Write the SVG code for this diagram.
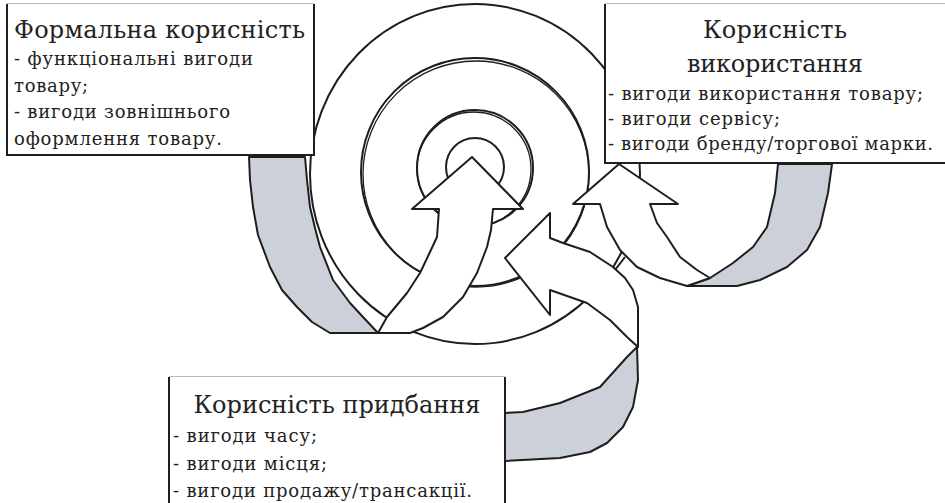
<svg xmlns="http://www.w3.org/2000/svg" width="945" height="503" viewBox="0 0 945 503">
<style>
.ln{fill:none;stroke:#1e1e1e;stroke-width:2;stroke-linejoin:round}
.thin{fill:none;stroke:#1e1e1e;stroke-width:1.3}
.wh{fill:#ffffff;stroke:#1e1e1e;stroke-width:2;stroke-linejoin:round}
.gr{fill:#ccd0d8;stroke:#1e1e1e;stroke-width:2;stroke-linejoin:round}
.box{fill:#ffffff}
.bd{fill:none;stroke:#1e1e1e;stroke-width:2}
.tp{fill:none;stroke:#b8b8b8;stroke-width:1}
.t1{font-family:"DejaVu Serif","Liberation Serif",serif;font-size:24px;fill:#222}
.t2{font-family:"DejaVu Serif","Liberation Serif",serif;font-size:18px;fill:#222}
</style>
<rect width="945" height="503" fill="#ffffff"/>
<g id="circles">
<ellipse class="ln" cx="475" cy="174" rx="165" ry="170"/>
<circle class="ln" cx="475" cy="172" r="114"/>
<circle class="thin" cx="476" cy="174" r="113"/>
<circle class="ln" cx="475" cy="168" r="58"/>
<circle class="thin" cx="474" cy="169" r="57"/>
<circle class="ln" cx="475" cy="167" r="29"/>
</g>
<g id="connectors">
<g id="arrow-use">
<path class="gr" d="M778,164 L775,193 L767,227 L753,247 L733,263 L710,278 L687,286 L737,286 L760,280 L787,267 L807,250 L820,227 L828,193 L832,164 Z"/>
<path class="wh" d="M619,164 L678,204 L650,204 L657,223 L667,237 L680,257 L697,270 L710,278 L687,286 L660,278 L637,267 L620,250 L607,227 L600,204 L573,204 Z"/>
<path class="ln" d="M625,257 L615,270"/>
</g>
<g id="arrow-form">
<path class="gr" d="M249,157 L305,157 L307,180 L310,207 L315,228 L320,247 L333,280 L350,303 L363,317 L378,333 L330,333 L312,322 L297,307 L282,290 L270,267 L258,235 L253,207 L250,180 Z"/>
<path class="wh" d="M472,157 L523,209 L493,209 L491,230 L487,247 L477,273 L463,297 L443,317 L423,328 L410,333 L378,333 L387,317 L407,293 L420,273 L430,252 L437,237 L439,209 L412,209 Z"/>
</g>
<g id="arrow-acq">
<path class="gr" d="M505,413 L523,412 L560,403 L600,387 L627,357 L637,347 L638,380 L633,407 L623,427 L607,443 L590,452 L560,458 L505,461 Z"/>
<path class="wh" d="M505,258 L550,213 L550,238 L563,243 L590,252 L613,267 L625,278 L633,290 L638,307 L638,347 L627,337 L610,320 L587,303 L550,290 L550,315 Z"/>
</g>
</g>
<g id="node-formal">
<rect class="box" x="7" y="3" width="307" height="152"/>
<path class="tp" d="M7,3.5 H314"/>
<path class="bd" d="M7,4 V155 H314 V4"/>
<text class="t1" x="14" y="38" textLength="291">Формальна корисність</text>
<text class="t2" x="14" y="65" textLength="239">- функціональні вигоди</text>
<text class="t2" x="14" y="92" textLength="74">товару;</text>
<text class="t2" x="14" y="118" textLength="216">- вигоди зовнішнього</text>
<text class="t2" x="14" y="145" textLength="208">оформлення товару.</text>
</g>
<g id="node-use">
<rect class="box" x="605" y="3" width="345" height="160"/>
<path class="tp" d="M605,3.5 H945"/>
<path class="bd" d="M605,4 V163 H945"/>
<text class="t1" x="775" y="38" text-anchor="middle" textLength="144">Корисність</text>
<text class="t1" x="775" y="72" text-anchor="middle" textLength="176">використання</text>
<text class="t2" x="608" y="100" textLength="315">- вигоди використання товару;</text>
<text class="t2" x="608" y="125" textLength="172">- вигоди сервісу;</text>
<text class="t2" x="608" y="150" textLength="325">- вигоди бренду/торгової марки.</text>
</g>
<g id="node-acq">
<rect class="box" x="169" y="376" width="336" height="130"/>
<path class="tp" d="M169,376.5 H505"/>
<path class="bd" d="M169,377 V503 M505,377 V503"/>
<text class="t1" x="337" y="413" text-anchor="middle" textLength="287">Корисність придбання</text>
<text class="t2" x="173" y="442" textLength="144">- вигоди часу;</text>
<text class="t2" x="173" y="470" textLength="154">- вигоди місця;</text>
<text class="t2" x="173" y="497" textLength="299">- вигоди продажу/трансакції.</text>
</g>
</svg>
